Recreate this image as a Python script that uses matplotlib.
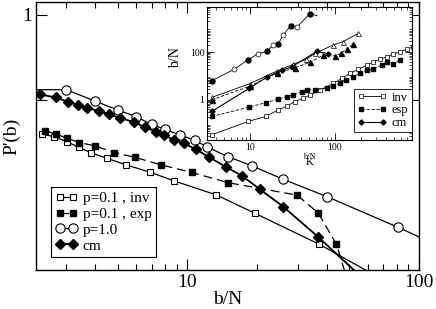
import matplotlib
matplotlib.use("Agg")
import matplotlib.pyplot as plt
from matplotlib.ticker import FixedLocator, LogLocator, NullFormatter, FixedFormatter

plt.rcParams["font.family"] = ["Liberation Serif", "DejaVu Serif"]

# main panel: P'(b) against b/N
inv_x = [2.355, 2.645, 3.02, 3.39, 3.85, 4.50, 5.45, 6.90, 8.73, 13.35, 19.56, 37.07, 68.1]
inv_y = [0.0398, 0.0370, 0.0323, 0.0278, 0.0238, 0.0206, 0.0172, 0.01415, 0.0112,
         0.00763, 0.00465, 0.00201, 0.0008]

exp_x = [2.43, 2.70, 3.03, 3.40, 4.00, 4.83, 5.96, 7.72, 10.46, 15.02, 29.8, 36.7, 44.0, 49.1]
exp_y = [0.0435, 0.0398, 0.0354, 0.0316, 0.0288, 0.0241, 0.0211, 0.0172, 0.01403,
         0.01064, 0.00759, 0.00469, 0.00201, 0.00076]

p1_x = [2.0, 3.0, 4.0, 5.0, 6.0, 7.0, 8.0, 9.25, 10.75, 12.15, 15.0, 19.1, 25.9, 40.1, 81.2, 100.0]
p1_y = [0.132, 0.132, 0.0968, 0.0762, 0.0638, 0.0515, 0.0452, 0.0388, 0.0338, 0.028,
        0.0215, 0.0167, 0.01167, 0.00728, 0.00318, 0.00245]

cm_x = [2.32, 2.70, 3.05, 3.36, 3.70, 4.15, 4.58, 5.11, 5.87, 6.58, 7.30, 7.90, 8.75,
        9.64, 10.9, 12.45, 14.63, 17.26, 20.56, 25.93, 36.56, 55.8]
cm_y = [0.116, 0.107, 0.0955, 0.0873, 0.0805, 0.0742, 0.0675, 0.0614, 0.0551, 0.0475,
        0.0424, 0.0388, 0.0338, 0.031, 0.0262, 0.0211, 0.0164, 0.01276, 0.0089,
        0.00556, 0.00247, 0.00085]

# inset: b/N against K
in_circ_full_x = [3.54, 9.55, 15.72, 21.5, 30.1, 50.8]
in_circ_full_y = [6.3, 48.4, 106.9, 222.8, 1275, 4120]
in_circ_open_x = [6.54, 12.52, 18.5, 24.66, 35.4]
in_circ_open_y = [19.2, 85.9, 189.4, 525, 1084]
in_circ_end_x = [61.9]
in_circ_end_y = [3311]

in_tri_open_x = [3.54, 10.0, 20.6, 32.3, 45.6, 58.2, 95.5, 125.2, 188]
in_tri_open_y = [1.27, 4.82, 15.9, 31.0, 49.8, 88.4, 198.7, 277, 612]
in_tri_full_x = [3.54, 10.0, 20.6, 33.8, 50.8, 72.3, 100, 117.6, 138.4, 164.2]
in_tri_full_y = [1.0, 3.8, 13.1, 22.2, 37.5, 73, 69.6, 88.4, 135.7, 218.6]

in_cm_x = [3.54, 9.81, 15.72, 23.6, 30.9, 60.9, 83.4]
in_cm_y = [0.328, 3.05, 8.96, 17.5, 23.9, 107, 86]

in_esp_x = [3.54, 9.81, 15.43, 21.5, 27.5, 32.3, 40.6, 46.5, 58.2, 79.9, 94.7, 114.5,
            134.7, 164.2, 196.8, 236, 282.2, 354, 405.5, 485, 582]
in_esp_y = [0.203, 0.499, 0.773, 1.07, 1.37, 1.61, 2.21, 2.59, 2.72, 3.05, 3.8, 4.91,
            6.73, 9.23, 13.1, 17.5, 20.5, 28.1, 38.5, 33.1, 45.3]

in_inv_x = [3.54, 9.55, 15.43, 21.5, 27.5, 33.8, 42.4, 50.8, 66.6, 95.5, 119.9, 150.2,
            188, 236, 282, 338, 405, 485, 582, 697.5, 827]
in_inv_y = [0.0345, 0.126, 0.203, 0.385, 0.564, 0.851, 1.176, 1.61, 2.59, 4.91, 7.92,
            12.75, 19.2, 28.1, 37.5, 52.3, 62.1, 84.2, 100, 135.7, 164.2]

fig = plt.figure(figsize=(4.36, 3.09), dpi=100)
ax = fig.add_axes([36 / 436, 1 - 270 / 309, 383 / 436, 268 / 309])

ax.plot(inv_x, inv_y, "-", color="black", lw=0.9, marker="s", ms=4.8, mfc="white",
        mec="black", mew=0.8, markevery=slice(0, -1), label="p=0.1 , inv")
ax.plot(exp_x, exp_y, color="black", lw=0.9, dashes=(7, 4), marker="s", ms=4.8,
        mfc="black", mec="black", markevery=slice(0, -1), label="p=0.1 , exp")
ax.plot(p1_x, p1_y, "-", color="black", lw=0.9, marker="o", ms=6.7, mfc="white",
        mec="black", mew=0.8, markevery=slice(1, -1), label="p=1.0")
ax.plot(cm_x, cm_y, "-", color="black", lw=1.3, marker="D", ms=4.6, mfc="black",
        mec="black", markevery=slice(0, -1), label="cm")

ax.set_xscale("log")
ax.set_yscale("log")
ax.set_xlim(2.22, 100)
ax.set_ylim(0.001, 1.42)
ax.xaxis.set_major_locator(FixedLocator([10, 100]))
ax.xaxis.set_major_formatter(FixedFormatter(["10", "100"]))
ax.xaxis.set_minor_locator(LogLocator(base=10, subs=range(2, 10)))
ax.xaxis.set_minor_formatter(NullFormatter())
ax.yaxis.set_major_locator(FixedLocator([1, 0.1]))
ax.yaxis.set_major_formatter(FixedFormatter(["1", ""]))
ax.yaxis.set_minor_locator(FixedLocator([]))
ax.tick_params(which="both", direction="in", top=True, right=True, labelsize=14)
ax.tick_params(which="major", length=8, width=0.8, pad=3)
ax.tick_params(which="minor", length=4, width=0.8)
for s in ax.spines.values():
    s.set_linewidth(1.0)
ax.set_xlabel("b/N", fontsize=14, labelpad=0)
ax.set_ylabel("P'(b)", fontsize=14, labelpad=1)

leg = ax.legend(loc="lower left", bbox_to_anchor=(0.038, 0.047), borderaxespad=0,
                fontsize=11, numpoints=2, handlelength=1.5, handletextpad=0.3,
                labelspacing=0.15, borderpad=0.3, fancybox=False, framealpha=1)
leg.get_frame().set_edgecolor("black")
leg.get_frame().set_linewidth(0.8)

# inset
axi = fig.add_axes([207.3 / 436, 1 - 140 / 309, 204.4 / 436, 132.7 / 309])
axi.set_facecolor("white")

circ_line = sorted(zip(in_circ_full_x + in_circ_open_x + in_circ_end_x,
                       in_circ_full_y + in_circ_open_y + in_circ_end_y))
axi.plot([p[0] for p in circ_line], [p[1] for p in circ_line], "-", color="black", lw=0.6)
axi.plot(in_circ_full_x, in_circ_full_y, "o", ms=3.6, mfc="black", mec="black")
axi.plot(in_circ_open_x, in_circ_open_y, "o", ms=3.6, mfc="white", mec="black", mew=0.5)

axi.plot(in_tri_open_x, in_tri_open_y, "-", color="black", lw=0.6, marker="^", ms=3.6,
         mfc="white", mec="black", mew=0.5)
axi.plot(in_tri_full_x, in_tri_full_y, color="black", lw=0.6, dashes=(4, 2), marker="^",
         ms=3.6, mfc="black", mec="black")

axi.plot(in_inv_x, in_inv_y, "-", color="black", lw=0.6, marker="s", ms=2.9,
         mfc="white", mec="black", mew=0.5, label="inv")
axi.plot(in_esp_x, in_esp_y, color="black", lw=0.6, dashes=(4, 2), marker="s", ms=2.9,
         mfc="black", mec="black", label="esp")
axi.plot(in_cm_x, in_cm_y, "-", color="black", lw=0.8, marker="D", ms=2.6, mfc="black",
         mec="black", label="cm")

axi.set_xscale("log")
axi.set_yscale("log")
axi.set_xlim(3.15, 798)
axi.set_ylim(0.021, 7500)
axi.xaxis.set_major_locator(FixedLocator([10, 100]))
axi.xaxis.set_major_formatter(FixedFormatter(["10", "100"]))
axi.xaxis.set_minor_locator(LogLocator(base=10, subs=range(2, 10)))
axi.xaxis.set_minor_formatter(NullFormatter())
axi.yaxis.set_major_locator(FixedLocator([1, 100]))
axi.yaxis.set_major_formatter(FixedFormatter(["1", "100"]))
axi.yaxis.set_minor_locator(LogLocator(base=10, subs=range(2, 10)))
axi.yaxis.set_minor_formatter(NullFormatter())
axi.tick_params(which="both", direction="in", top=True, right=True, labelsize=7, pad=2)
axi.tick_params(which="major", length=5, width=0.6)
axi.tick_params(which="minor", length=2.5, width=0.5)
for s in axi.spines.values():
    s.set_linewidth(0.8)

legi = axi.legend(loc="lower right", bbox_to_anchor=(1.0, 0.06), borderaxespad=0,
                  fontsize=9, numpoints=2, handlelength=2.4, handletextpad=0.4,
                  labelspacing=0.05, borderpad=0.25, fancybox=False, framealpha=1)
legi.get_frame().set_edgecolor("black")
legi.get_frame().set_linewidth(0.6)

fig.text(176 / 436, 1 - 58 / 309, "b/N", rotation=90, fontsize=10, ha="center", va="center")
fig.text(309 / 436, 1 - 157 / 309, "b/N", fontsize=6, ha="center", va="center")
fig.text(309.5 / 436, 1 - 163 / 309, "K", fontsize=8, ha="center", va="center")

fig.savefig("out.png", dpi=100)
